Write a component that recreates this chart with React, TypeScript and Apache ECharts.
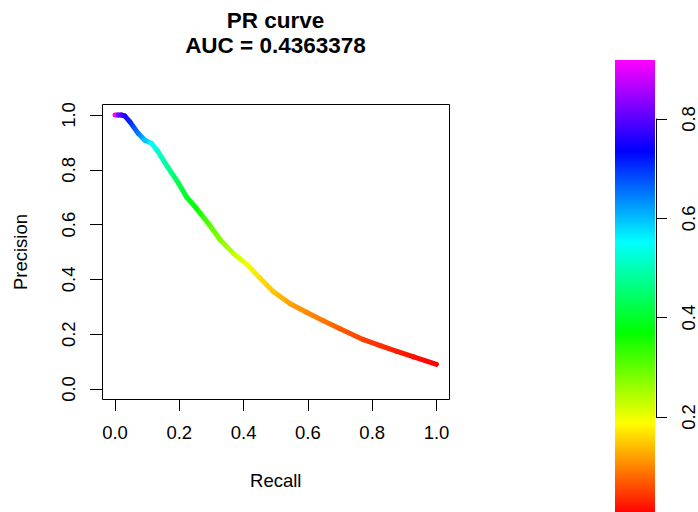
import React, { useEffect, useRef } from 'react';
import * as echarts from 'echarts';

// Curve points (recall, precision, threshold)
const recall = [0.000, 0.010, 0.020, 0.030, 0.046, 0.072, 0.093, 0.114, 0.134, 0.165, 0.197, 0.223, 0.254, 0.295, 0.327, 0.368, 0.410, 0.451, 0.493, 0.545, 0.597, 0.648, 0.700, 0.773, 0.825, 0.877, 0.929, 1.000];
const precision = [1.000, 1.000, 1.000, 0.997, 0.976, 0.933, 0.908, 0.896, 0.866, 0.808, 0.752, 0.700, 0.658, 0.597, 0.545, 0.495, 0.455, 0.405, 0.355, 0.311, 0.279, 0.249, 0.220, 0.180, 0.158, 0.137, 0.117, 0.090];
const threshold = [0.918, 0.83, 0.78, 0.76, 0.71, 0.65, 0.60, 0.555, 0.52, 0.48, 0.43, 0.40, 0.37, 0.31, 0.28, 0.235, 0.20, 0.17, 0.15, 0.125, 0.107, 0.095, 0.075, 0.055, 0.042, 0.03, 0.02, 0.01];

const titleText = 'PR curve\nAUC = 0.4363378';
const xName = 'Recall';
const yName = 'Precision';
const rainbow = ['#ff0000', '#ffff00', '#00ff00', '#00ffff', '#0000ff', '#ff00ff'];
const colorMin = 0.01;
const colorMax = 0.918;

const FONT = '"Liberation Sans", Arial, Helvetica, sans-serif';

function hexToRgb(h: string) {
  return [parseInt(h.slice(1, 3), 16), parseInt(h.slice(3, 5), 16), parseInt(h.slice(5, 7), 16)];
}
function colorFor(t: number) {
  const f = Math.max(0, Math.min(1, (t - colorMin) / (colorMax - colorMin))) * (rainbow.length - 1);
  const i = Math.min(Math.floor(f), rainbow.length - 2);
  const u = f - i;
  const a = hexToRgb(rainbow[i]);
  const b = hexToRgb(rainbow[i + 1]);
  const c = a.map((v, k) => Math.round(v + (b[k] - v) * u));
  return `rgb(${c[0]},${c[1]},${c[2]})`;
}

const segments = recall.slice(0, -1).map((r, i) => [r, precision[i], recall[i + 1], precision[i + 1], threshold[i], threshold[i + 1]]);

export default function App() {
  const ref = useRef<HTMLDivElement>(null);
  useEffect(() => {
    if (!ref.current) return;
    const chart = echarts.init(ref.current, null, { renderer: 'svg' });
    const labelStyle = { fontSize: 18.5, color: '#000', fontFamily: FONT };
    // colour bar gradient: top = colorMax (magenta), bottom = colorMin (red)
    const n = rainbow.length;
    const barStops = rainbow.map((_, i) => ({ offset: i / (n - 1), color: rainbow[n - 1 - i] }));
    const barTop = 60;
    const pxPerUnit = 500;
    const barHeight = (colorMax - colorMin) * pxPerUnit;
    chart.setOption({
      animation: false,
      backgroundColor: '#fff',
      textStyle: { fontFamily: FONT },
      title: {
        text: titleText,
        left: 275.5,
        top: 8,
        textAlign: 'center',
        padding: 0,
        textStyle: { fontSize: 22.5, fontWeight: 'bold', lineHeight: 25, color: '#000', fontFamily: FONT },
      },
      grid: [
        { left: 115, top: 115, width: 321.5, height: 274, outerBoundsMode: 'none', containLabel: false },
        { left: 655, top: 119, width: 1, height: 298, outerBoundsMode: 'none', containLabel: false },
      ],
      xAxis: [
        {
          gridIndex: 0, type: 'value', min: 0, max: 1, interval: 0.2, offset: 10,
          axisLine: { show: true, onZero: false, lineStyle: { color: '#000' } },
          axisTick: { show: true, length: 12, lineStyle: { color: '#000' } },
          axisLabel: { margin: 24, ...labelStyle, formatter: (v: number) => v.toFixed(1) },
          splitLine: { show: false },
          name: xName, nameLocation: 'middle', nameGap: 72,
          nameTextStyle: labelStyle,
        },
        { gridIndex: 1, type: 'value', show: false },
      ],
      yAxis: [
        {
          gridIndex: 0, type: 'value', min: 0, max: 1, interval: 0.2, offset: 13,
          axisLine: { show: true, onZero: false, lineStyle: { color: '#000' } },
          axisTick: { show: true, length: 12, lineStyle: { color: '#000' } },
          axisLabel: { margin: 24, rotate: 90, ...labelStyle, formatter: (v: number) => v.toFixed(1) },
          splitLine: { show: false },
          name: yName, nameLocation: 'middle', nameGap: 72, nameRotate: 90,
          nameTextStyle: labelStyle,
        },
        {
          gridIndex: 1, type: 'value', position: 'right', min: 0.2, max: 0.8, interval: 0.2,
          axisLine: { show: true, onZero: false, lineStyle: { color: '#000' } },
          axisTick: { show: true, length: 11, lineStyle: { color: '#000' } },
          axisLabel: { margin: 23, rotate: 90, ...labelStyle, formatter: (v: number) => v.toFixed(1) },
          splitLine: { show: false },
        },
      ],
      graphic: [
        {
          type: 'rect', silent: true, z: 0,
          shape: { x: 102.5, y: 104.5, width: 347, height: 295 },
          style: { fill: 'none', stroke: '#000', lineWidth: 1 },
        },
        {
          type: 'rect', silent: true, z: 0,
          shape: { x: 615, y: barTop, width: 40, height: barHeight },
          style: { fill: new echarts.graphic.LinearGradient(0, 0, 0, 1, barStops) },
        },
      ],
      series: [
        {
          type: 'custom',
          coordinateSystem: 'cartesian2d',
          xAxisIndex: 0,
          yAxisIndex: 0,
          silent: true,
          clip: false,
          data: segments,
          renderItem: (params: any, api: any) => {
            const p0 = api.coord([api.value(0), api.value(1)]);
            const p1 = api.coord([api.value(2), api.value(3)]);
            const c0 = colorFor(api.value(4));
            const c1 = colorFor(api.value(5));
            return {
              type: 'line',
              shape: { x1: p0[0], y1: p0[1], x2: p1[0], y2: p1[1] },
              style: {
                stroke: new echarts.graphic.LinearGradient(p0[0], p0[1], p1[0], p1[1] + 0.001, [
                  { offset: 0, color: c0 },
                  { offset: 1, color: c1 },
                ], true),
                lineWidth: 5,
                lineCap: 'round',
                fill: 'none',
              },
            };
          },
        },
      ],
    });
    return () => chart.dispose();
  }, []);
  return <div ref={ref} style={{ position: 'absolute', left: 0, top: 0, width: 698, height: 512 }} />;
}
